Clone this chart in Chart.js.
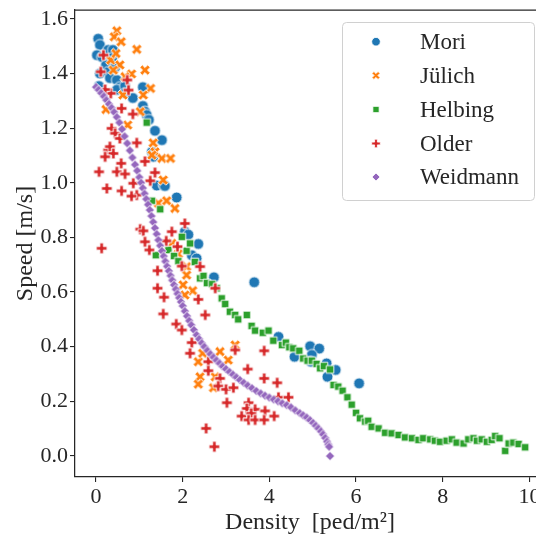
<!DOCTYPE html>
<html>
<head>
<meta charset="utf-8">
<title>Speed-density</title>
<script src="https://cdn.jsdelivr.net/npm/chart.js@4.4.1/dist/chart.umd.min.js"></script>
<style>
  html, body { margin: 0; padding: 0; background: #fff; overflow: hidden; }
  #frame { width: 536px; height: 542px; overflow: hidden; }
  #fd { display: block; }
</style>
</head>
<body>
<div id="frame"><canvas id="fd" width="560" height="542"></canvas></div>
<script>
// density [ped/m^2] / speed [m/s] pairs per data source
var xTicks = [0, 2, 4, 6, 8, 10];
var yTicks = [0.0, 0.2, 0.4, 0.6, 0.8, 1.0, 1.2, 1.4, 1.6];
var seriesNames = ['Mori', 'Jülich', 'Helbing', 'Older', 'Weidmann'];
var seriesColors = ['#1f77b4', '#ff7f0e', '#2ca02c', '#d62728', '#9467bd'];

var mori = [
    [0.05, 1.527], [0.09, 1.504], [0.02, 1.467], [0.14, 1.46], [0.28, 1.486], [0.39, 1.486],
    [0.37, 1.456], [0.23, 1.43], [0.09, 1.40], [0.28, 1.405], [0.44, 1.423], [0.32, 1.383],
    [0.48, 1.376], [0.55, 1.35], [0.48, 1.34], [0.67, 1.354], [0.67, 1.328], [0.85, 1.31],
    [0.07, 1.354], [1.08, 1.35], [1.08, 1.281], [1.13, 1.26], [1.17, 1.248], [1.22, 1.23],
    [1.36, 1.19], [1.52, 1.156], [1.29, 1.113], [1.32, 1.095], [1.40, 0.99], [1.56, 0.992],
    [1.59, 0.988], [1.86, 0.946], [2.05, 0.821], [2.13, 0.81], [2.36, 0.776], [2.21, 0.735],
    [2.32, 0.723], [2.72, 0.654], [3.65, 0.636], [4.21, 0.436], [4.94, 0.402], [5.15, 0.393],
    [4.58, 0.363], [4.98, 0.37], [4.96, 0.345], [5.32, 0.339], [5.53, 0.315], [5.34, 0.29],
    [6.07, 0.266]
];

var julich = [
    [0.48, 1.556], [0.42, 1.534], [0.58, 1.516], [0.94, 1.488], [0.34, 1.449], [0.46, 1.473],
    [0.55, 1.431], [0.40, 1.412], [0.82, 1.398], [0.67, 1.388], [1.13, 1.412], [1.26, 1.345],
    [1.09, 1.321], [0.62, 1.321], [0.23, 1.268], [0.73, 1.211], [1.02, 1.26], [1.32, 1.146],
    [1.36, 1.113], [1.29, 1.101], [1.52, 1.089], [1.72, 1.089], [1.55, 1.01], [1.44, 0.925],
    [1.63, 0.934], [1.82, 0.906], [1.75, 0.778], [1.90, 0.74], [2.09, 0.693], [2.09, 0.662],
    [2.01, 0.626], [2.23, 0.605], [2.05, 0.589], [3.21, 0.406], [2.86, 0.382], [3.05, 0.351],
    [2.36, 0.345], [2.40, 0.29], [2.36, 0.263], [2.75, 0.29], [2.71, 0.25], [2.46, 0.376]
];

var helbing = [
    [1.17, 1.22], [1.29, 0.934], [1.38, 0.735], [1.48, 0.903], [1.67, 0.754], [1.80, 0.732],
    [1.90, 0.713], [1.98, 0.802], [2.09, 0.751], [2.17, 0.778], [2.28, 0.710], [2.40, 0.650],
    [2.48, 0.659], [2.56, 0.633], [2.68, 0.629], [2.79, 0.614], [2.90, 0.577], [2.98, 0.556],
    [3.09, 0.528], [3.21, 0.516], [3.28, 0.500], [3.48, 0.516], [3.59, 0.476], [3.67, 0.459],
    [3.85, 0.451], [3.98, 0.459], [4.09, 0.422], [4.29, 0.406], [4.38, 0.415], [4.46, 0.398],
    [4.55, 0.394], [4.69, 0.385], [4.78, 0.357], [4.88, 0.349], [4.98, 0.349], [5.09, 0.337],
    [5.17, 0.321], [5.26, 0.329], [5.40, 0.317], [5.48, 0.260], [5.59, 0.254], [5.69, 0.239],
    [5.80, 0.215], [5.90, 0.188], [6.00, 0.158], [6.09, 0.138], [6.21, 0.126], [6.28, 0.129],
    [6.36, 0.107], [6.52, 0.101], [6.67, 0.085], [6.82, 0.083], [6.98, 0.077], [7.13, 0.068],
    [7.29, 0.065], [7.44, 0.059], [7.55, 0.065], [7.71, 0.061], [7.82, 0.056], [7.94, 0.052],
    [8.09, 0.056], [8.21, 0.061], [8.32, 0.049], [8.48, 0.046], [8.59, 0.061], [8.71, 0.065],
    [8.79, 0.056], [8.90, 0.061], [9.02, 0.052], [9.13, 0.059], [9.21, 0.073], [9.31, 0.065],
    [9.44, 0.019], [9.52, 0.046], [9.63, 0.049], [9.75, 0.044], [9.90, 0.032]
];

var older = [
    [0.17, 1.467], [0.11, 1.406], [0.72, 1.376], [0.75, 1.339], [0.34, 1.327], [0.21, 1.341],
    [0.59, 1.272], [0.85, 1.251], [0.36, 1.199], [0.44, 1.181], [0.55, 1.162], [0.28, 1.12],
    [0.32, 1.132], [0.40, 1.107], [0.21, 1.095], [0.58, 1.071], [0.94, 1.146], [1.13, 1.078],
    [0.07, 1.04], [0.48, 1.04], [0.67, 1.032], [1.36, 1.037], [1.25, 1.007], [0.25, 0.979],
    [0.59, 0.970], [0.86, 0.998], [0.94, 0.955], [0.82, 0.951], [0.13, 0.76], [1.02, 0.83],
    [1.09, 0.824], [1.13, 0.784], [1.23, 0.754], [1.75, 0.821], [2.05, 0.851], [1.62, 0.787],
    [1.88, 0.766], [1.98, 0.695], [2.40, 0.693], [1.42, 0.678], [1.42, 0.614], [1.57, 0.581],
    [1.55, 0.52], [1.85, 0.483], [1.98, 0.461], [2.36, 0.573], [2.75, 0.614], [2.52, 0.516],
    [2.21, 0.415], [2.17, 0.376], [3.21, 0.388], [2.59, 0.345], [2.59, 0.312], [2.86, 0.284],
    [3.50, 0.318], [2.82, 0.256], [3.00, 0.244], [3.17, 0.25], [3.88, 0.385], [3.88, 0.284],
    [4.18, 0.268], [4.21, 0.215], [4.44, 0.215], [3.02, 0.195], [3.52, 0.195], [3.48, 0.174],
    [3.67, 0.171], [3.90, 0.165], [3.36, 0.146], [3.58, 0.156], [3.52, 0.132], [3.67, 0.132],
    [3.88, 0.132], [4.11, 0.146], [2.54, 0.101], [2.73, 0.034]
];

var weidmann = [
    [0.00, 1.350], [0.06, 1.340], [0.12, 1.328], [0.18, 1.316], [0.24, 1.302], [0.30, 1.288],
    [0.36, 1.274], [0.42, 1.258], [0.48, 1.240], [0.54, 1.220], [0.60, 1.196], [0.66, 1.170],
    [0.72, 1.144], [0.78, 1.118], [0.84, 1.092], [0.90, 1.066], [0.95, 1.044], [1.00, 1.020],
    [1.04, 1.000], [1.08, 0.980], [1.12, 0.960], [1.16, 0.940], [1.20, 0.920], [1.24, 0.900],
    [1.28, 0.878], [1.32, 0.856], [1.36, 0.834], [1.40, 0.812], [1.44, 0.790], [1.48, 0.770],
    [1.52, 0.750], [1.56, 0.731], [1.60, 0.712], [1.64, 0.694], [1.68, 0.677], [1.72, 0.660],
    [1.76, 0.643], [1.80, 0.626], [1.84, 0.610], [1.88, 0.594], [1.92, 0.579], [1.96, 0.564],
    [2.00, 0.549], [2.05, 0.530], [2.10, 0.512], [2.15, 0.495], [2.20, 0.479], [2.26, 0.461],
    [2.32, 0.443], [2.38, 0.428], [2.44, 0.413], [2.50, 0.400], [2.57, 0.386], [2.64, 0.373],
    [2.71, 0.361], [2.78, 0.350], [2.85, 0.339], [2.92, 0.328], [3.00, 0.318], [3.08, 0.308],
    [3.16, 0.298], [3.24, 0.288], [3.32, 0.278], [3.41, 0.268], [3.50, 0.258], [3.60, 0.248],
    [3.70, 0.238], [3.80, 0.229], [3.90, 0.221], [4.00, 0.214], [4.10, 0.207], [4.20, 0.200],
    [4.30, 0.193], [4.40, 0.186], [4.50, 0.178], [4.60, 0.167], [4.70, 0.157], [4.78, 0.149],
    [4.86, 0.141], [4.94, 0.131], [5.01, 0.121], [5.07, 0.111], [5.13, 0.101], [5.19, 0.090],
    [5.24, 0.079], [5.29, 0.066], [5.33, 0.053], [5.36, 0.042], [5.38, 0.034], [5.40, 0.000]
];

var INK = '#262626';
var SERIF = "'Liberation Serif', 'DejaVu Serif', serif";

var shapes = ['circle', 'x', 'square', 'plus', 'diamond'];
var plotSizes = [5.5, 5.6, 4.9, 5.4, 4.6];
var legendSizes = [4.3, 4.3, 4.0, 4.3, 4.0];

// outline of one marker, centred on (0, 0)
function markerPath(ctx, shape, r) {
    var w;
    if (shape === 'circle') {
        ctx.arc(0, 0, r, 0, Math.PI * 2);
    } else if (shape === 'square') {
        var s = r * 0.78;
        ctx.rect(-s, -s, 2 * s, 2 * s);
    } else if (shape === 'diamond') {
        ctx.moveTo(0, -r);
        ctx.lineTo(r, 0);
        ctx.lineTo(0, r);
        ctx.lineTo(-r, 0);
        ctx.closePath();
    } else {
        // filled plus; the 'x' is the same shape turned by 45 degrees
        if (shape === 'x') ctx.rotate(Math.PI / 4);
        w = r * 0.32;
        ctx.moveTo(-w, -r);
        ctx.lineTo(w, -r);
        ctx.lineTo(w, -w);
        ctx.lineTo(r, -w);
        ctx.lineTo(r, w);
        ctx.lineTo(w, w);
        ctx.lineTo(w, r);
        ctx.lineTo(-w, r);
        ctx.lineTo(-w, w);
        ctx.lineTo(-r, w);
        ctx.lineTo(-r, -w);
        ctx.lineTo(-w, -w);
        ctx.closePath();
    }
}

function drawMarker(ctx, shape, x, y, r, color, edge) {
    ctx.save();
    ctx.translate(x, y);
    ctx.beginPath();
    markerPath(ctx, shape, r);
    ctx.fillStyle = color;
    ctx.fill();
    if (edge) {
        ctx.lineWidth = edge;
        ctx.strokeStyle = '#ffffff';
        ctx.lineJoin = 'miter';
        ctx.stroke();
    }
    ctx.restore();
}

function markerImage(shape, r, color) {
    var c = document.createElement('canvas');
    var s = Math.ceil(2 * r + 4);
    c.width = s;
    c.height = s;
    drawMarker(c.getContext('2d'), shape, s / 2, s / 2, r, color, 0.9);
    return c;
}

var datasets = [mori, julich, helbing, older, weidmann].map(function (pts, i) {
    return {
        label: seriesNames[i],
        data: pts.map(function (p) { return { x: p[0], y: p[1] }; }),
        pointStyle: markerImage(shapes[i], plotSizes[i], seriesColors[i]),
        pointRadius: plotSizes[i],
        pointHoverRadius: plotSizes[i],
        showLine: false,
        order: 5 - i
    };
});

// top spine and the boxed legend in the upper right corner
var frameAndLegend = {
    id: 'frameAndLegend',
    afterDraw: function (chart) {
        var ctx = chart.ctx;
        var area = chart.chartArea;

        ctx.save();
        ctx.strokeStyle = INK;
        ctx.lineWidth = 1.25;
        ctx.beginPath();
        ctx.moveTo(area.left, area.top);
        ctx.lineTo(area.right, area.top);
        ctx.stroke();

        var bx = 342, by = 22, bw = 192, bh = 178;
        ctx.beginPath();
        ctx.roundRect(bx + 0.5, by + 0.5, bw, bh, 4);
        ctx.fillStyle = 'rgba(255,255,255,0.8)';
        ctx.fill();
        ctx.strokeStyle = '#d0d0d0';
        ctx.lineWidth = 1;
        ctx.stroke();

        var rows = [41.7, 75.5, 109.5, 143.5, 177];
        ctx.font = '23px ' + SERIF;
        ctx.textBaseline = 'middle';
        ctx.textAlign = 'left';
        seriesNames.forEach(function (name, i) {
            drawMarker(ctx, shapes[i], 376, rows[i], legendSizes[i], seriesColors[i], 0.8);
            ctx.fillStyle = INK;
            ctx.fillText(name, 420, rows[i] + 1);
        });
        ctx.restore();
    }
};

var ctx = document.getElementById('fd').getContext('2d');
var fdChart = new Chart(ctx, {
    type: 'scatter',
    data: { datasets: datasets },
    options: {
        responsive: false,
        animation: false,
        events: [],
        // the plot runs on past the right edge of the visible frame
        layout: { padding: { top: 10, right: 15, left: 0, bottom: 0 } },
        plugins: {
            legend: { display: false },
            tooltip: { enabled: false }
        },
        scales: {
            x: {
                type: 'linear',
                min: -0.485,
                max: 10.36,
                afterBuildTicks: function (scale) {
                    scale.ticks = xTicks.map(function (v) { return { value: v }; });
                },
                afterFit: function (scale) {
                    scale.height = 65;
                    scale.paddingLeft = 0;
                    scale.paddingRight = 0;
                },
                grid: { drawOnChartArea: false, drawTicks: true, tickLength: 5, color: INK, lineWidth: 1.1 },
                border: { display: true, color: INK, width: 1.25 },
                ticks: {
                    color: INK,
                    autoSkip: false,
                    maxRotation: 0,
                    padding: 2,
                    font: { family: SERIF, size: 22 },
                    callback: function (v) { return String(v); }
                },
                title: {
                    display: true,
                    text: 'Density  [ped/m²]',
                    color: INK,
                    font: { family: SERIF, size: 24 },
                    padding: { top: 0, bottom: 5 }
                }
            },
            y: {
                type: 'linear',
                min: -0.0768,
                max: 1.632,
                afterBuildTicks: function (scale) {
                    scale.ticks = yTicks.map(function (v) { return { value: v }; });
                },
                afterFit: function (scale) {
                    scale.width = 75;
                    scale.paddingTop = 0;
                    scale.paddingBottom = 0;
                },
                grid: { drawOnChartArea: false, drawTicks: true, tickLength: 5, color: INK, lineWidth: 1.1 },
                border: { display: true, color: INK, width: 1.25 },
                ticks: {
                    color: INK,
                    autoSkip: false,
                    padding: 2,
                    font: { family: SERIF, size: 22 },
                    callback: function (v) { return Number(v).toFixed(1); }
                },
                title: {
                    display: true,
                    text: 'Speed [m/s]',
                    color: INK,
                    font: { family: SERIF, size: 24 },
                    padding: { top: 11, bottom: 0 }
                }
            }
        }
    },
    plugins: [frameAndLegend]
});
</script>
</body>
</html>
